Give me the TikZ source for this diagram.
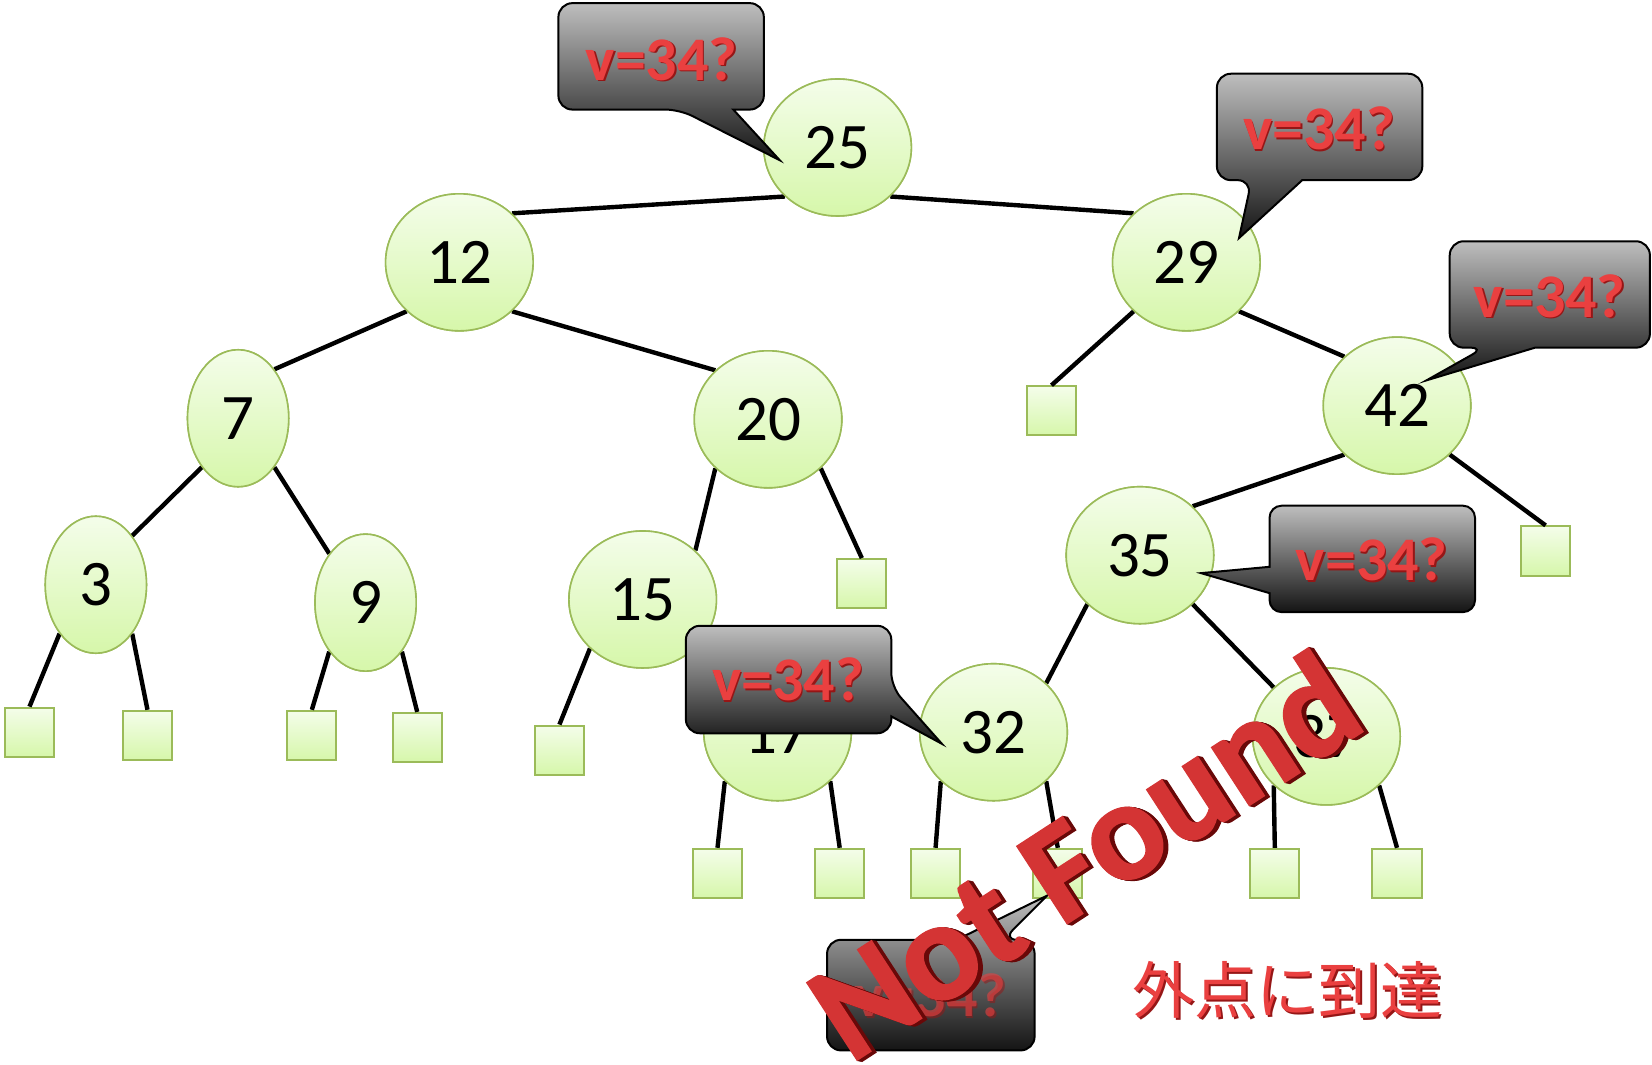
\documentclass[tikz,border=0pt]{standalone}
\usepackage{fontspec}
\setmainfont{Carlito}
\newfontfamily\cjkjp{Noto Sans CJK JP}
\newfontfamily\nffont[BoldFeatures={FakeBold=1.2}]{Carlito}
\usetikzlibrary{shapes.geometric}
\definecolor{nodetop}{RGB}{244,253,234}
\definecolor{nodebot}{RGB}{214,247,170}
\definecolor{nodeedge}{RGB}{155,187,89}
\definecolor{bubtop}{RGB}{190,190,190}
\definecolor{bubbot}{RGB}{20,20,20}
\definecolor{qred}{RGB}{234,64,64}
\definecolor{qdark}{RGB}{150,22,22}
\definecolor{nfred}{RGB}{212,52,52}
\definecolor{nfdark}{RGB}{105,8,8}
\begin{document}
\begin{tikzpicture}[x=0.5268pt, y=-0.5268pt,
  inode/.style={ellipse, draw=nodeedge, line width=0.8pt, top color=nodetop, bottom color=nodebot,
    minimum width=73.75pt, minimum height=68.5pt, inner sep=0pt, font=\fontsize{32.5pt}{38pt}\selectfont},
  narrow/.style={inode, minimum width=50.6pt},
  leaf/.style={rectangle, draw=nodeedge, line width=1pt, top color=nodetop, bottom color=nodebot,
    minimum size=24.6pt, inner sep=0pt},
  link/.style={line width=2.2pt, black},
  bubble/.style={draw=black, line width=1pt, top color=bubtop, bottom color=bubbot},
  qtx/.style={text=qred, font=\bfseries\fontsize{31pt}{36pt}\selectfont, inner sep=0pt},
  qsh/.style={text=qdark, font=\bfseries\fontsize{31pt}{36pt}\selectfont, inner sep=0pt},
  nftext/.style={rotate=33, inner sep=0pt, font=\nffont\bfseries\fontsize{71pt}{84pt}\selectfont},
]
\useasboundingbox (0,0) rectangle (1568,1010);

% ---------- node positions (drawn after edges)
\path
  (795,140) node[inode] (n25) {}
  (436,249) node[inode] (n12) {}
  (1126,249) node[inode] (n29) {}
  (226,397) node[narrow] (n7) {}
  (729,398) node[inode] (n20) {}
  (1326,385) node[inode] (n42) {}
  (91,555) node[narrow] (n3) {}
  (347,572) node[narrow] (n9) {}
  (610,569) node[inode] (n15) {}
  (1082,527) node[inode] (n35) {}
  (738,695) node[inode] (n17) {}
  (943,695) node[inode] (n32) {}
  (1259,699) node[inode] (n37) {};

% leaves
\node[leaf] (l3a) at (28,695) {};
\node[leaf] (l3b) at (140,698) {};
\node[leaf] (l9a) at (296,698) {};
\node[leaf] (l9b) at (396,700) {};
\node[leaf] (l15) at (531,712) {};
\node[leaf] (l20) at (818,554) {};
\node[leaf] (l29) at (998,390) {};
\node[leaf] (l42) at (1467,523) {};
\node[leaf] (l17a) at (681,829) {};
\node[leaf] (l17b) at (797,829) {};
\node[leaf] (l32a) at (888,829) {};
\node[leaf] (l32b) at (1004,829) {};
\node[leaf] (l37a) at (1210,829) {};
\node[leaf] (l37b) at (1326,829) {};

% ---------- edges
\draw[link] (n25.south west) -- (n12.north east);
\draw[link] (n25.south east) -- (n29.north west);
\draw[link] (n12.south west) -- (n7.north east);
\draw[link] (n12.south east) -- (n20.north west);
\draw[link] (n7.south west) -- (n3.north east);
\draw[link] (n7.south east) -- (n9.north west);
\draw[link] (n3.south west) -- (l3a.north);
\draw[link] (n3.south east) -- (l3b.north);
\draw[link] (n9.south west) -- (l9a.north);
\draw[link] (n9.south east) -- (l9b.north);
\draw[link] (n20.south west) -- (n15.north east);
\draw[link] (n20.south east) -- (l20.north);
\draw[link] (n15.south west) -- (l15.north);
\draw[link] (n15.south east) -- (n17.north west);
\draw[link] (n17.south west) -- (l17a.north);
\draw[link] (n17.south east) -- (l17b.north);
\draw[link] (n29.south west) -- (l29.north);
\draw[link] (n29.south east) -- (n42.north west);
\draw[link] (n42.south west) -- (n35.north east);
\draw[link] (n42.south east) -- (l42.north);
\draw[link] (n35.south west) -- (n32.north east);
\draw[link] (n35.south east) -- (n37.north west);
\draw[link] (n32.south west) -- (l32a.north);
\draw[link] (n32.south east) -- (l32b.north);
\draw[link] (n37.south west) -- (l37a.north);
\draw[link] (n37.south east) -- (l37b.north);

% ---------- nodes on top of edges
\node[inode] (m25) at (n25) {25};
\node[inode] (m12) at (n12) {12};
\node[inode] (m29) at (n29) {29};
\node[narrow] (m7) at (n7) {7};
\node[inode] (m20) at (n20) {20};
\node[inode] (m42) at (n42) {42};
\node[narrow] (m3) at (n3) {3};
\node[narrow] (m9) at (n9) {9};
\node[inode] (m15) at (n15) {15};
\node[inode] (m35) at (n35) {35};
\node[inode] (m17) at (n17) {17};
\node[inode] (m32) at (n32) {32};
\node[inode] (m37) at (n37) {37};

% ---------- callouts
\path[bubble] (740,152) -- (696,104) [rounded corners=7pt] -- (725,104) -- (725,3) -- (530,3) -- (530,104) -- (645,104) [sharp corners] -- cycle;
\path[bubble] (1176,226) -- (1236,171) [rounded corners=7pt] -- (1350,171) -- (1350,70) -- (1155,70) -- (1155,171) -- (1188,171) [sharp corners] -- cycle;
\path[bubble] (1354,361) -- (1457,330) [rounded corners=7pt] -- (1566,330) -- (1566,229) -- (1376,229) -- (1376,330) -- (1409,330) [sharp corners] -- cycle;
\path[bubble] (1140,544) -- (1205,538) [rounded corners=6pt] -- (1205,480) -- (1400,480) -- (1400,581) -- (1205,581) [sharp corners] -- (1205,563) -- cycle;
\path[bubble] (894,706) -- (846,680) [rounded corners=7pt] -- (846,696) -- (651,696) -- (651,594) -- (846,594) -- (846,652) [sharp corners] -- cycle;
\path[bubble] (994,850) -- (908,892) [rounded corners=7pt] -- (785,892) -- (785,997) -- (982,997) -- (982,892) -- (952,892) [sharp corners] -- cycle;

\node[qsh, xshift=0.8pt, yshift=-0.8pt] (qsa) at (628,56) {v=34?};
\node[qtx] (qa) at (628,56) {v=34?};
\node[qsh, xshift=0.8pt, yshift=-0.8pt] (qsb) at (1252,122) {v=34?};
\node[qtx] (qb) at (1252,122) {v=34?};
\node[qsh, xshift=0.8pt, yshift=-0.8pt] (qsc) at (1471,281) {v=34?};
\node[qtx] (qc) at (1471,281) {v=34?};
\node[qsh, xshift=0.8pt, yshift=-0.8pt] (qsd) at (1302,531) {v=34?};
\node[qtx] (qd) at (1302,531) {v=34?};
\node[qsh, xshift=0.8pt, yshift=-0.8pt] (qse) at (748,645) {v=34?};
\node[qtx] (qe) at (748,645) {v=34?};
\node[qsh, xshift=0.8pt, yshift=-0.8pt, opacity=0.5] (qsf) at (883,945) {v=34?};
\node[qtx, opacity=0.6] (qf) at (883,945) {v=34?};

% ---------- Not Found (3D look)
\foreach \k in {1,...,6}{
  \node[nftext, text=nfdark, xshift=0.3*\k pt, yshift=-0.3*\k pt] at (1028,811) {Not Found};
}
\node[nftext, text=nfred] (nf) at (1028,811) {Not Found};

% ---------- Japanese label
\node[text=qdark, inner sep=0pt, font=\cjkjp\fontsize{31pt}{36pt}\selectfont, xshift=0.8pt, yshift=-0.8pt] (jps) at (1222,940) {外点に到達};
\node[text=qred, inner sep=0pt, font=\cjkjp\fontsize{31pt}{36pt}\selectfont] (jp) at (1222,940) {外点に到達};
\end{tikzpicture}
\end{document}
